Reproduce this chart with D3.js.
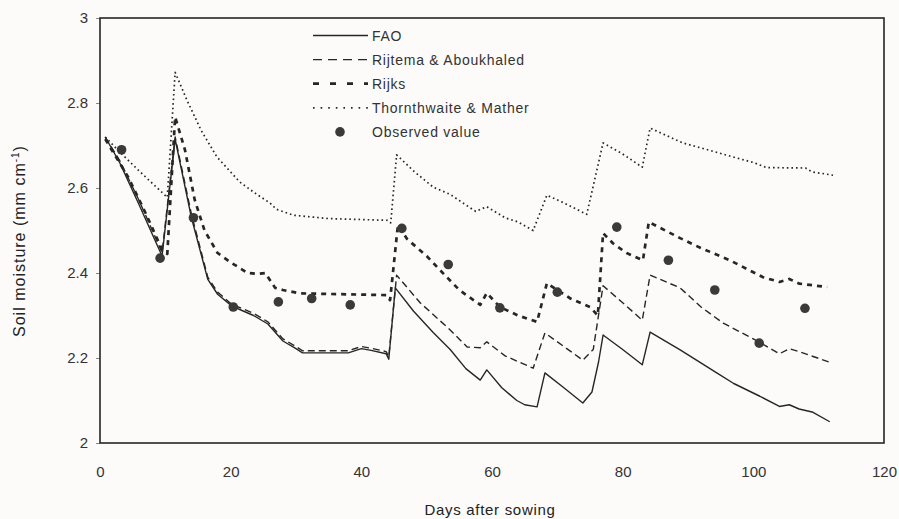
<!DOCTYPE html>
<html>
<head>
<meta charset="utf-8">
<script src="https://cdn.jsdelivr.net/npm/d3@7"></script>
<style>
  html, body { margin: 0; padding: 0; background: #fcfbf9; }
  svg { display: block; font-family: "Liberation Sans", Arial, sans-serif; }
</style>
</head>
<body>
<div id="chart"></div>
<script>
// ==========================================
// DATA
// ==========================================

const xTicks = [0, 20, 40, 60, 80, 100, 120];
const yTicks = [2, 2.2, 2.4, 2.6, 2.8, 3];

// [day, soil moisture]
const faoSeries = [
    [0.8, 2.72], [3, 2.66], [6, 2.56], [9.5, 2.44], [11.5, 2.715], [14, 2.53], [16.5, 2.385],
    [18, 2.35], [20.2, 2.322], [22, 2.31], [23.5, 2.30], [25.7, 2.28], [28, 2.24], [30, 2.222],
    [31, 2.212], [38, 2.212], [40, 2.222], [41.5, 2.218], [43.8, 2.21], [44.2, 2.197], [45.2, 2.365],
    [48, 2.31], [51, 2.26], [53.6, 2.22], [56, 2.175], [58.2, 2.148], [59.2, 2.172], [61.5, 2.13],
    [63.8, 2.10], [65, 2.09], [66.9, 2.085], [68.1, 2.165], [71, 2.13], [73.9, 2.094], [75.3, 2.12],
    [76.3, 2.19], [77, 2.254], [80, 2.22], [83, 2.184], [84.2, 2.261], [88.8, 2.219], [94.4, 2.165],
    [97, 2.14], [101, 2.11], [104, 2.086], [105.5, 2.09], [107, 2.08], [109, 2.073], [111.7, 2.05]
];

const rijtemaSeries = [
    [0.8, 2.72], [3, 2.665], [6, 2.57], [9.5, 2.448], [11.5, 2.72], [14, 2.538], [16.5, 2.39],
    [18, 2.355], [20.2, 2.326], [22, 2.315], [23.5, 2.305], [25.7, 2.285], [28, 2.245], [30, 2.227],
    [31, 2.217], [38, 2.217], [40, 2.227], [41.5, 2.223], [43.8, 2.215], [44.2, 2.203], [45.4, 2.395],
    [49, 2.33], [53.6, 2.266], [56.2, 2.226], [58.2, 2.224], [59.2, 2.238], [62, 2.205], [66.3, 2.176],
    [68.1, 2.259], [73.9, 2.195], [75.5, 2.22], [77, 2.37], [80, 2.33], [83, 2.289], [84.2, 2.395],
    [88.8, 2.365], [92, 2.32], [95.4, 2.282], [100, 2.245], [104, 2.21], [105.5, 2.222], [107, 2.215],
    [111.7, 2.19]
];

const rijksSeries = [
    [0.8, 2.715], [4.3, 2.626], [7, 2.54], [9.5, 2.455], [10.3, 2.445], [11.5, 2.767], [13, 2.69],
    [14.5, 2.572], [16, 2.5], [18, 2.447], [20, 2.425], [22.6, 2.40], [24, 2.398], [25.3, 2.40],
    [26.8, 2.365], [28, 2.36], [30.6, 2.352], [43.9, 2.348], [44.4, 2.336], [45.6, 2.513], [47, 2.48],
    [50, 2.44], [53.1, 2.39], [55, 2.36], [58.2, 2.325], [59.2, 2.353], [61.2, 2.32], [64, 2.30],
    [66.9, 2.285], [68.4, 2.376], [70, 2.36], [72, 2.34], [75, 2.32], [76.2, 2.30], [77, 2.494],
    [78.5, 2.47], [80.6, 2.447], [83.1, 2.43], [84, 2.52], [88.8, 2.482], [91.8, 2.46], [96.4, 2.43],
    [101.5, 2.39], [104, 2.379], [105.5, 2.386], [107, 2.375], [111.3, 2.367]
];

const thornthwaiteSeries = [
    [0.8, 2.72], [3, 2.685], [6, 2.64], [10.3, 2.578], [11.5, 2.872], [13.3, 2.807], [15.5, 2.735],
    [17.9, 2.673], [21.4, 2.614], [24, 2.585], [26, 2.565], [27, 2.55], [29.6, 2.536], [35, 2.528],
    [44, 2.524], [44.5, 2.518], [45.4, 2.678], [48, 2.64], [51, 2.602], [53.6, 2.585], [56.5, 2.555],
    [57.5, 2.545], [59.2, 2.556], [62, 2.53], [64, 2.52], [66.3, 2.50], [68.4, 2.583], [71, 2.565],
    [74.5, 2.538], [77, 2.706], [80, 2.68], [83, 2.649], [84.2, 2.741], [89.2, 2.706], [93, 2.69],
    [96.9, 2.673], [100, 2.66], [102, 2.648], [108, 2.647], [109, 2.638], [112.2, 2.63]
];

const observedDays = [3.3, 9.2, 14.3, 20.4, 27.3, 32.4, 38.3, 46.2, 53.3, 61.2, 70, 79.1, 87, 94.1, 100.9, 107.9];
const observedValues = [2.69, 2.435, 2.53, 2.32, 2.332, 2.34, 2.325, 2.505, 2.42, 2.318, 2.355, 2.508, 2.43, 2.36, 2.235, 2.317];

const legendLabels = ['FAO', 'Rijtema & Aboukhaled', 'Rijks', 'Thornthwaite & Mather', 'Observed value'];

// ==========================================
// LAYOUT / STYLES
// ==========================================

const WIDTH = 899;
const HEIGHT = 519;
const margin = { top: 18, right: 15, bottom: 76, left: 100 };
const INK = '#262626';
const FONT = '"Liberation Sans", Arial, sans-serif';

const seriesStyles = [
    { data: faoSeries, width: 1.4, dash: null },
    { data: rijtemaSeries, width: 1.4, dash: '7,4' },
    { data: rijksSeries, width: 2.7, dash: '5,5' },
    { data: thornthwaiteSeries, width: 1.7, dash: '1.6,3' }
];

const svg = d3.select('#chart').append('svg')
    .attr('width', WIDTH)
    .attr('height', HEIGHT);

const w = WIDTH - margin.left - margin.right;
const h = HEIGHT - margin.top - margin.bottom;

const x = d3.scaleLinear().domain([0, 120]).range([0, w]);
const y = d3.scaleLinear().domain([2, 3]).range([h, 0]);

const g = svg.append('g').attr('transform', `translate(${margin.left},${margin.top})`);

// axes
const xAxis = d3.axisBottom(x).tickValues(xTicks).tickSize(0).tickPadding(23).tickFormat(d3.format('d'));
const yAxis = d3.axisLeft(y).tickValues(yTicks).tickSize(4).tickPadding(8).tickFormat(d => String(+d.toFixed(1)));

const gx = g.append('g').attr('transform', `translate(0,${h})`).call(xAxis);
const gy = g.append('g').call(yAxis);

[gx, gy].forEach(axis => {
    axis.select('.domain').remove();
    axis.selectAll('line').attr('stroke', '#888');
    axis.selectAll('text')
        .attr('fill', '#333')
        .attr('font-size', 15)
        .attr('font-family', FONT);
});

// frame
g.append('rect')
    .attr('x', 0).attr('y', 0)
    .attr('width', w).attr('height', h)
    .attr('fill', 'none')
    .attr('stroke', INK)
    .attr('stroke-width', 1.6);

// series
const line = d3.line()
    .x(d => x(d[0]))
    .y(d => y(d[1]));

seriesStyles.forEach(s => {
    const path = g.append('path')
        .datum(s.data)
        .attr('fill', 'none')
        .attr('stroke', INK)
        .attr('stroke-width', s.width)
        .attr('stroke-linejoin', 'round')
        .attr('d', line);
    if (s.dash) path.attr('stroke-dasharray', s.dash);
});

// observed points
g.selectAll('circle.obs')
    .data(observedDays.map((d, i) => [d, observedValues[i]]))
    .enter().append('circle')
    .attr('class', 'obs')
    .attr('cx', d => x(d[0]))
    .attr('cy', d => y(d[1]))
    .attr('r', 4.8)
    .attr('fill', '#3a3a3a');

// legend
const legend = svg.append('g').attr('transform', 'translate(313,35.5)');
const rowGap = 24.1;
legendLabels.forEach((label, i) => {
    const row = legend.append('g').attr('transform', `translate(0,${i * rowGap})`);
    if (i < 4) {
        const st = seriesStyles[i];
        const ln = row.append('line')
            .attr('x1', 0).attr('x2', 55)
            .attr('y1', 0).attr('y2', 0)
            .attr('stroke', INK)
            .attr('stroke-width', st.width);
        if (i === 2) ln.attr('stroke-dasharray', '6,11');
        else if (i === 3) ln.attr('stroke-dasharray', '1.6,6');
        else if (st.dash) ln.attr('stroke-dasharray', '9,6');
    } else {
        row.append('circle').attr('cx', 27).attr('cy', 0).attr('r', 4.8).attr('fill', '#3a3a3a');
    }
    row.append('text')
        .attr('x', 59)
        .attr('y', 5)
        .attr('font-size', 14)
        .attr('letter-spacing', 0.75)
        .attr('fill', '#333')
        .text(label);
});

// axis titles
svg.append('text')
    .attr('x', 490)
    .attr('y', 515)
    .attr('text-anchor', 'middle')
    .attr('font-size', 15)
    .attr('letter-spacing', 0.7)
    .attr('fill', '#222')
    .text('Days after sowing');

const yTitle = svg.append('text')
    .attr('transform', 'translate(25,241) rotate(-90)')
    .attr('text-anchor', 'middle')
    .attr('font-size', 16)
    .attr('letter-spacing', 1)
    .attr('fill', '#222');
yTitle.append('tspan').text('Soil moisture (mm cm');
yTitle.append('tspan').attr('dy', -6).attr('font-size', 10).text('-1');
yTitle.append('tspan').attr('dy', 6).text(')');
</script>
</body>
</html>
